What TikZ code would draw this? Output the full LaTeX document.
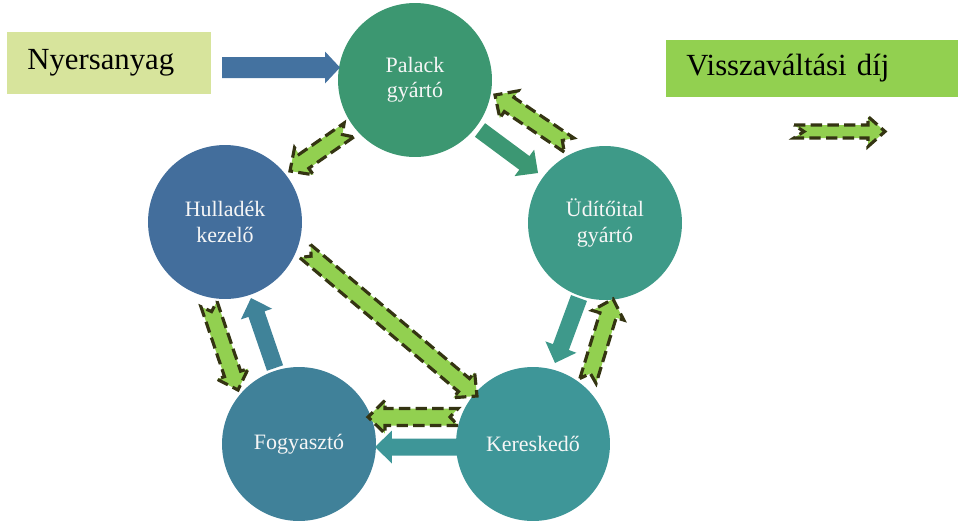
\documentclass[tikz,border=0pt]{standalone}
\usepackage{fontspec}
\setmainfont{Liberation Serif}
\usetikzlibrary{calc}

\definecolor{palcol}{RGB}{60,151,113}
\definecolor{udicol}{RGB}{62,154,136}
\definecolor{kercol}{RGB}{62,150,152}
\definecolor{fogcol}{RGB}{64,129,153}
\definecolor{hulcol}{RGB}{67,110,156}
\definecolor{rawblue}{RGB}{68,114,160}
\definecolor{rawfill}{RGB}{215,228,156}
\definecolor{refundgreen}{RGB}{146,208,80}
\definecolor{refunddark}{RGB}{52,52,18}
\definecolor{stagetext}{RGB}{246,246,246}

\tikzset{
  ba shaft/.store in=\bashaft, ba head/.store in=\bahead,
  ba len/.store in=\balen, ba notch/.store in=\banotch,
  ba shaft=0.17cm, ba head=0.33cm, ba len=0.34cm, ba notch=0cm,
  flow/.style={fill=#1},
  refund/.style={fill=refundgreen,draw=refunddark,line width=1.8pt,
    dash pattern=on 6.5pt off 3pt,ba notch=0.16cm},
}

% block arrow from #2 to #3, look in #1
\newcommand{\blockarrow}[3][]{%
  \path[#1] let \p1=($(#3)!\balen!(#2)$) in
    ($(#2)!\bashaft!90:(#3)$) -- ($(\p1)!\bashaft!90:(#3)$)
    -- ($(\p1)!\bahead!90:(#3)$) -- (#3)
    -- ($(\p1)!\bahead!-90:(#3)$) -- ($(\p1)!\bashaft!-90:(#3)$)
    -- ($(#2)!\bashaft!-90:(#3)$) -- ($(#2)!\banotch!(#3)$) -- cycle;
}

\begin{document}
\begin{tikzpicture}[x=0.02cm,y=-0.02cm,
  stage/.style={circle,fill=#1,minimum size=3.08cm,inner sep=0pt,
    text=stagetext,align=center,font=\fontsize{12.5}{14.5}\selectfont},
  tag/.style={anchor=west,inner xsep=0.4cm,align=left,
    font=\fontsize{17.5}{20}\selectfont}]
  \useasboundingbox (0,0) rectangle (965,522);

  % stages
  \node[stage=palcol] (pal) at (415,80) {Palack\\gyártó};
  \node[stage=udicol] (udi) at (605,223) {Üdítőital\\gyártó};
  \node[stage=kercol] (ker) at (533,444) {Kereskedő};
  \node[stage=fogcol] (fog) at (299,444) {Fogyasztó};
  \node[stage=hulcol] (hul) at (225,222) {Hulladék\\kezelő};

  % legend boxes
  \node[tag,fill=rawfill,text width=3.28cm,minimum height=1.24cm] (raw) at (7,63) {Nyersanyag};
  \node[tag,fill=refundgreen,text width=5.04cm,minimum height=1.14cm] (refund) at (666,68.5) {Visszaváltási díj};

  % arrow ends
  \coordinate (raw-s) at (222,67.5);
  \coordinate (raw-e) at (340,67.5);
  \coordinate (pal-hul-s) at (349,130);
  \coordinate (pal-hul-e) at (290,171);
  \coordinate (pal-udi-s) at (480,130);
  \coordinate (pal-udi-e) at (538,173);
  \coordinate (udi-pal-s) at (569,145);
  \coordinate (udi-pal-e) at (495,95);
  \coordinate (udi-ker-s) at (579,298);
  \coordinate (udi-ker-e) at (555,363);
  \coordinate (ker-udi-s) at (588,381);
  \coordinate (ker-udi-e) at (613,299);
  \coordinate (hul-ker-s) at (305,251);
  \coordinate (hul-ker-e) at (477,396);
  \coordinate (hul-fog-s) at (209,304);
  \coordinate (hul-fog-e) at (238,390);
  \coordinate (fog-hul-s) at (275,368);
  \coordinate (fog-hul-e) at (251,298);
  \coordinate (ker-fog1-s) at (458,417);
  \coordinate (ker-fog1-e) at (368,417);
  \coordinate (ker-fog2-s) at (458,447);
  \coordinate (ker-fog2-e) at (375,447);
  \coordinate (key-s) at (794,131.5);
  \coordinate (key-e) at (885,131.5);

  % material flow
  \blockarrow[flow=rawblue,ba shaft=0.21cm,ba head=0.32cm,ba len=0.3cm]{raw-s}{raw-e}
  \blockarrow[flow={palcol!90!udicol}]{pal-udi-s}{pal-udi-e}
  \blockarrow[flow={udicol!80!kercol}]{udi-ker-s}{udi-ker-e}
  \blockarrow[flow=kercol]{ker-fog2-s}{ker-fog2-e}
  \blockarrow[flow={fogcol!90!kercol}]{fog-hul-s}{fog-hul-e}

  % refund flow
  \blockarrow[refund]{pal-hul-s}{pal-hul-e}
  \blockarrow[refund]{udi-pal-s}{udi-pal-e}
  \blockarrow[refund]{ker-udi-s}{ker-udi-e}
  \blockarrow[refund]{hul-ker-s}{hul-ker-e}
  \blockarrow[refund]{hul-fog-s}{hul-fog-e}
  \blockarrow[refund]{ker-fog1-s}{ker-fog1-e}
  \blockarrow[refund,ba shaft=0.13cm,ba head=0.3cm,ba notch=0.2cm]{key-s}{key-e}
\end{tikzpicture}
\end{document}
